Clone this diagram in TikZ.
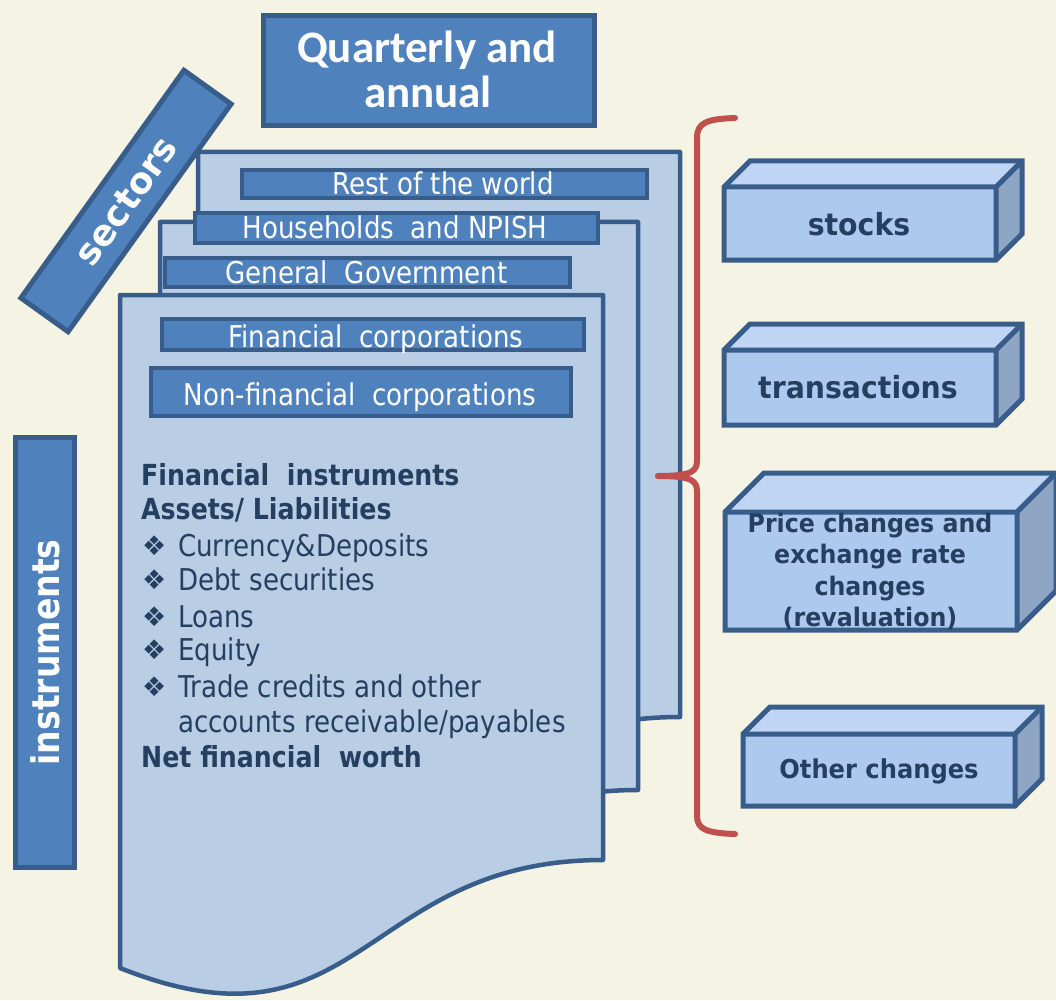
\documentclass[tikz,border=0pt]{standalone}
\usepackage{fontspec}
\setmainfont[FakeStretch=0.87]{DejaVu Sans}
\newfontfamily\boxfont[FakeStretch=0.93]{DejaVu Sans}
\newfontfamily\bandfont{DejaVu Sans}
\newfontfamily\titlefont{Carlito}

\definecolor{bgcream}{HTML}{F5F3E3}
\definecolor{navyline}{HTML}{385D8A}
\definecolor{midblue}{HTML}{4F81BD}
\definecolor{pageblue}{HTML}{B9CDE5}
\definecolor{cubefront}{HTML}{AEC9EE}
\definecolor{cubetopc}{HTML}{BFD5F3}
\definecolor{cubesidec}{HTML}{8EA5C3}
\definecolor{inktext}{HTML}{243F60}
\definecolor{bracered}{HTML}{C0504D}

\tikzset{
  page/.style={fill=pageblue, draw=navyline, line width=4.5pt, line join=round},
  strip/.style={rectangle, fill=midblue, draw=navyline, line width=4.5pt, inner sep=0pt},
  striptext/.style={text=white, inner sep=0pt, anchor=base, font=\fontsize{30}{36}\selectfont},
  band/.style={rectangle, fill=midblue, draw=navyline, line width=5pt, inner sep=0pt,
    text=white},
  bodytext/.style={text=inktext, inner sep=0pt, anchor=base west, font=\fontsize{30}{36}\selectfont},
  bodybold/.style={bodytext, font=\fontsize{29}{36}\selectfont\bfseries},
  bullet/.style={text=inktext, inner sep=0pt, anchor=base west, font=\bandfont\fontsize{27}{30}\selectfont},
  cubefill/.style={fill=#1},
  cubeline/.style={draw=navyline, line width=5pt, line join=miter},
  cubetext/.style={text=inktext, inner sep=0pt, anchor=base, font=\boxfont\bfseries},
  bracestroke/.style={draw=bracered, line width=6pt, line cap=round, line join=round},
}

% a cuboid: front face node #1, front corners (#2,#3)-(#4,#5), depth #6
\newcommand\cuboid[6]{%
  \fill[cubefill=cubetopc] (#2,#3) -- ++(#6,-#6) -- (#4+#6,#3-#6) -- (#4,#3) -- cycle;
  \fill[cubefill=cubesidec] (#4,#3) -- ++(#6,-#6) -- (#4+#6,#5-#6) -- (#4,#5) -- cycle;
  \node[rectangle, fill=cubefront, inner sep=0pt, minimum width=#4-#2, minimum height=#5-#3]
    (#1) at ({(#2+#4)/2},{(#3+#5)/2}) {};
  \draw[cubeline] (#2,#3) -- ++(#6,-#6) -- (#4+#6,#3-#6) -- (#4+#6,#5-#6) -- (#4,#5)
    -- (#2,#5) -- cycle;
  \draw[cubeline] (#2,#3) -- (#4,#3) -- (#4,#5) (#4,#3) -- ++(#6,-#6);
}

\begin{document}
\begin{tikzpicture}[x=1pt, y=-1pt]
\useasboundingbox (0,0) rectangle (1056,1000);
\fill[bgcream] (0,0) rectangle (1056,1000);

% stacked sector sheets, back to front
\filldraw[page] (198,152) -- (680,152) -- (680,717)
  .. controls (439,717) and (439,922) .. (198,825) -- cycle;
\node[strip, minimum width=405, minimum height=28] (row) at (444.5,184) {};
\node[striptext] (rowlbl) at (443,195) {Rest of the world};

\filldraw[page] (160,222) -- (638,222) -- (638,790)
  .. controls (399,790) and (399,995) .. (160,898) -- cycle;
\node[strip, minimum width=403, minimum height=30] (hh) at (396.5,228) {};
\node[striptext] (hhlbl) at (395,239) {Households\ \ and NPISH};
\node[strip, minimum width=405, minimum height=29] (gg) at (367.5,272.5) {};
\node[striptext] (gglbl) at (366.5,283) {General\ \ Government};

\filldraw[page] (120,295) -- (603,295) -- (603,860)
  .. controls (361,860) and (361,1064) .. (120,968) -- cycle;
\node[strip, minimum width=422, minimum height=31] (fc) at (373,334.5) {};
\node[striptext] (fclbl) at (376,347) {Financial\ \ corporations};
\node[strip, minimum width=420, minimum height=48] (nfc) at (361,392) {};
\node[striptext] (nfclbl) at (360,405) {Non-financial\ \ corporations};

% instrument list on the front sheet
\node[bodybold] (fi) at (141,485) {Financial\ \ instruments};
\node[bodybold] (al) at (141,519) {Assets/ Liabilities};
\foreach \yy/\tx [count=\i] in {556/Currency\&Deposits, 590/Debt securities, 627/Loans,
  660/Equity, 697/Trade credits and other}{
  \node[bullet] (b\i) at (142,\yy-1) {❖};
  \node[bodytext] (it\i) at (178,\yy) {\tx};
}
\node[bodytext] (it6) at (178,732) {accounts receivable/payables};
\node[bodybold] (nfw) at (141,767) {Net financial\ \ worth};

% title and side bands
\node[band, minimum width=331, minimum height=110] (title) at (429,70.5) {};
\node[text=white, inner sep=0pt, anchor=base, font=\titlefont\fontsize{45}{45}\selectfont\bfseries]
  (title1) at (427,63) {Quarterly and};
\node[text=white, inner sep=0pt, anchor=base, font=\titlefont\fontsize{45}{45}\selectfont\bfseries]
  (title2) at (428,108) {annual};

\node[band, rotate=54.4, minimum width=280, minimum height=58,
  font=\bandfont\fontsize{36}{36}\selectfont\bfseries] (sectors) at (126,201) {sectors};
\node[band, rotate=90, minimum width=430, minimum height=59,
  font=\fontsize{38}{38}\selectfont\bfseries] (instr) at (45,652.5) {instruments};

% brace grouping the flow types
\draw[bracestroke] (735,118) .. controls (706,119) and (697,123) .. (697,138)
  -- (697,460) .. controls (697,471) and (693,476) .. (658,476);
\draw[bracestroke] (658,476) .. controls (693,476) and (697,481) .. (697,492)
  -- (697,816) .. controls (697,829) and (706,833) .. (735,834);

% flow type blocks
\cuboid{stocks}{724}{187}{996}{260}{26}
\node[cubetext, font=\boxfont\bfseries\fontsize{30.5}{31}\selectfont] (stockslbl) at (859,235) {stocks};
\cuboid{trans}{724}{350}{996}{425}{26}
\node[cubetext, font=\boxfont\bfseries\fontsize{30.5}{31}\selectfont] (translbl) at (858,398) {transactions};
\cuboid{reval}{725}{512}{1017}{630}{39}
\foreach \yy/\tx [count=\i] in {532/Price changes and, 563/exchange rate, 595/changes, 626/(revaluation)}{
  \node[cubetext, font=\boxfont\bfseries\fontsize{25.5}{26}\selectfont] (reval\i) at (870,\yy) {\tx};
}
\cuboid{other}{743}{734}{1015}{806}{27}
\node[cubetext, font=\boxfont\bfseries\fontsize{26}{27}\selectfont] (otherlbl) at (879,778) {Other changes};
\end{tikzpicture}
\end{document}
